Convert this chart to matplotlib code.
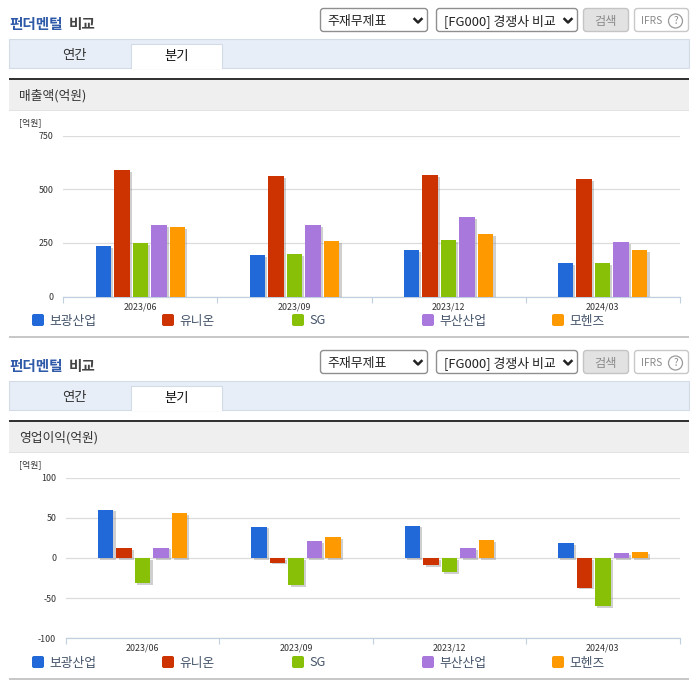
import matplotlib
matplotlib.use('Agg')
import matplotlib.pyplot as plt
import matplotlib.patheffects as pe
from matplotlib.patches import Rectangle, FancyBboxPatch, Circle

plt.rcParams['font.family'] = ['Noto Sans CJK KR', 'DejaVu Sans']

W, H = 696, 684

quarters = ['2023/06', '2023/09', '2023/12', '2024/03']
companies = ['보광산업', '유니온', 'SG', '부산산업', '모헨즈']
colors = ['#2168d8', '#cc3300', '#88c008', '#a878dc', '#ff9900']

# 매출액
sales_bokwang = [235, 192, 216, 155]
sales_union = [590, 562, 566, 548]
sales_sg = [250, 197, 263, 155]
sales_busan = [333, 333, 370, 253]
sales_mohenz = [322, 258, 290, 217]
sales_ticks = [0, 250, 500, 750]

# 영업이익
profit_bokwang = [60, 39, 40, 18]
profit_union = [12, -6, -9, -37]
profit_sg = [-31, -34, -18, -60]
profit_busan = [13, 21, 12, 6]
profit_mohenz = [56, 26, 22, 7]
profit_ticks = [-100, -50, 0, 50, 100]

fig = plt.figure(figsize=(W / 100, H / 100), dpi=100, facecolor='white')

# 화면 요소는 픽셀 좌표로 그린다
bg = fig.add_axes([0, 0, 1, 1])
bg.set_xlim(0, W)
bg.set_ylim(H, 0)
bg.axis('off')


def box(x0, y0, x1, y1, fc, ec='none', lw=0.0):
    bg.add_patch(Rectangle((x0, y0), x1 - x0, y1 - y0, fc=fc, ec=ec, lw=lw))


def rbox(x0, y0, x1, y1, fc, ec):
    bg.add_patch(FancyBboxPatch((x0 + 2, y0 + 2), x1 - x0 - 4, y1 - y0 - 4, boxstyle='round,pad=2,rounding_size=3',
                                fc=fc, ec=ec, lw=1.0))


def chevron(x, y):
    bg.plot([x - 3.5, x, x + 3.5], [y - 2, y + 1.5, y - 2], color='#222222', lw=1.8)


def header(dy, metric):
    bg.text(9.5, 24 + dy, '펀더멘털', color='#2f5aa8', fontsize=10.5, fontweight='bold', va='center')
    bg.text(69, 24 + dy, '비교', color='#444444', fontsize=10.5, fontweight='bold', va='center')

    rbox(320.5, 8.5 + dy, 427.5, 31.5 + dy, 'white', '#8f8f8f')
    bg.text(327, 21 + dy, '주재무제표', color='#222222', fontsize=9.3, va='center')
    chevron(418, 21 + dy)
    rbox(436.5, 8.5 + dy, 577.5, 31.5 + dy, 'white', '#8f8f8f')
    bg.text(444.5, 21 + dy, '[FG000] 경쟁사 비교', color='#222222', fontsize=9.3, va='center')
    chevron(568, 21 + dy)
    rbox(583.5, 8.5 + dy, 628.5, 31.5 + dy, '#e2e2e2', '#c4c4c4')
    bg.text(606, 21 + dy, '검색', color='#8a8a8a', fontsize=8.8, va='center', ha='center')
    rbox(634.5, 8.5 + dy, 688.5, 31.5 + dy, 'white', '#c8c8c8')
    bg.text(641, 20.5 + dy, 'IFRS', color='#8a8a8a', fontsize=7.4, va='center')
    bg.add_patch(Circle((675.5, 21 + dy), 7, fc='white', ec='#9a9a9a', lw=0.9))
    bg.text(675.5, 21 + dy, '?', color='#8a8a8a', fontsize=7, va='center', ha='center')

    box(9, 38.5 + dy, 688.5, 67.5 + dy, '#e8eef7', '#d3dbe6', 0.8)
    box(131, 43.5 + dy, 222, 68 + dy, 'white', '#d3dbe6', 0.8)
    box(131.5, 66 + dy, 221.5, 69 + dy, 'white')
    bg.text(74, 55 + dy, '연간', color='#333333', fontsize=9.6, va='center', ha='center')
    bg.text(176.5, 56 + dy, '분기', color='#111111', fontsize=9.6, va='center', ha='center')

    box(9, 80 + dy, 689, 110 + dy, '#efefef')
    box(9, 110 + dy, 689, 111 + dy, '#e2e2e2')
    box(9, 78 + dy, 689, 80 + dy, '#333333')
    bg.text(19, 96 + dy, metric, color='#333333', fontsize=9.2, va='center')
    bg.text(19.5, 123 + dy, '[억원]', color='#333333', fontsize=6.4, va='center')

    legend_x = [32, 162, 292, 422, 552]
    for x, name, c in zip(legend_x, companies, colors):
        bg.add_patch(FancyBboxPatch((x + 2, 316 + dy), 8, 8, boxstyle='round,pad=2,rounding_size=2', fc=c, ec='none'))
        bg.text(x + 17.5, 321 + dy, name, color='#44546a', fontsize=9.2, va='center')
    box(9, 336 + dy, 689, 338 + dy, '#c8c8c8')


def chart(x0, x1, ytop, ybot, ylim, yticks, series):
    ax = fig.add_axes([x0 / W, 1 - ybot / H, (x1 - x0) / W, (ybot - ytop) / H])
    ax.patch.set_alpha(0)
    shadow = [pe.SimplePatchShadow(offset=(1.6, -1.2), shadow_rgbFace='#888888', alpha=0.4), pe.Normal()]
    for j, vals in enumerate(series):
        pos = [i + 0.5 + (j - 2) * 0.1205 for i in range(len(quarters))]
        bars = ax.bar(pos, vals, width=0.1, color=colors[j], zorder=3)
        for b in bars:
            b.set_path_effects(shadow)
    ax.set_xlim(0, len(quarters))
    ax.set_ylim(*ylim)
    ax.set_yticks(yticks)
    ax.set_yticklabels([str(t) for t in yticks], fontsize=6.4, color='#333333')
    ax.set_xticks(range(len(quarters) + 1))
    ax.set_xticklabels([])
    ax.set_xticks([i + 0.5 for i in range(len(quarters))], minor=True)
    ax.set_xticklabels(quarters, minor=True, fontsize=6.4, color='#333333')
    ax.tick_params(axis='y', length=0, pad=7)
    ax.tick_params(axis='x', which='major', length=4, width=0.8, color='#c0d0e0')
    ax.tick_params(axis='x', which='minor', length=0, pad=4)
    ax.grid(axis='y', color='#dcdcdc', lw=0.9, zorder=0)
    ax.set_axisbelow(True)
    for s in ['top', 'left', 'right']:
        ax.spines[s].set_visible(False)
    ax.spines['bottom'].set_color('#c0d0e0')
    ax.spines['bottom'].set_linewidth(0.9)
    return ax


header(0, '매출액(억원)')
header(342, '영업이익(억원)')

chart(63.4, 679.6, 135.5, 296.7, (0, 750), sales_ticks,
      [sales_bokwang, sales_union, sales_sg, sales_busan, sales_mohenz])
chart(65.9, 679.6, 477.6, 638.3, (-100, 100), profit_ticks,
      [profit_bokwang, profit_union, profit_sg, profit_busan, profit_mohenz])

fig.savefig('out.png', dpi=100)
